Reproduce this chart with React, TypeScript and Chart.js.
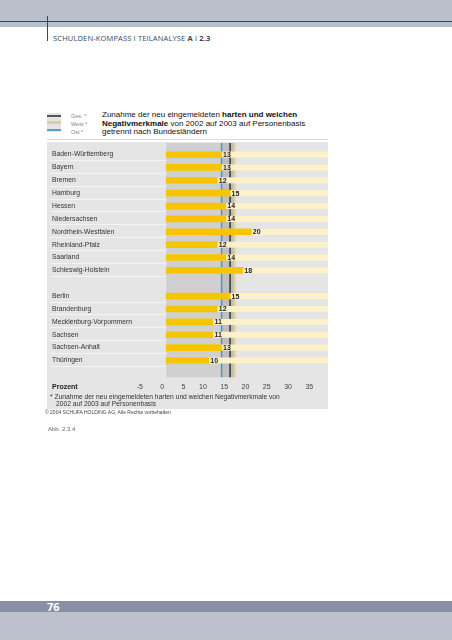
import React, { useEffect, useRef } from "react";
import { Chart, registerables } from "chart.js";

Chart.register(...registerables);

const categories = [
  "Baden-Württemberg",
  "Bayern",
  "Bremen",
  "Hamburg",
  "Hessen",
  "Niedersachsen",
  "Nordrhein-Westfalen",
  "Rheinland-Pfalz",
  "Saarland",
  "Schleswig-Holstein",
  "",
  "Berlin",
  "Brandenburg",
  "Mecklenburg-Vorpommern",
  "Sachsen",
  "Sachsen-Anhalt",
  "Thüringen",
];
const values: (number | null)[] = [13, 13, 12, 15, 14, 14, 20, 12, 14, 18, null, 15, 12, 11, 11, 13, 10];
const refNames = ["Ges. *", "West *", "Ost *"];
const refValues = [15.0, 16.1, 13.0];
const refColors = ["#333333", "#e6d38e", "#4f93c4"];
const xTicks = [-5, 0, 5, 10, 15, 20, 25, 30, 35];

const FONT = "'Liberation Sans', Arial, sans-serif";

const points = values
  .map((v, i) => ({ x: v, y: i }))
  .filter((p) => p.x !== null) as { x: number; y: number }[];

const decorPlugin = {
  id: "decor",
  beforeDatasetsDraw(chart: any) {
    const { ctx, chartArea, scales } = chart;
    const xs = scales.x;
    const ys = scales.y;
    const x0 = xs.getPixelForValue(0);
    const xOst = xs.getPixelForValue(refValues[2]);
    const xWest = xs.getPixelForValue(refValues[1]);
    ctx.save();
    // bands
    ctx.fillStyle = "#d0d0d0";
    ctx.fillRect(x0, chartArea.top, xOst - x0, chartArea.bottom - chartArea.top);
    ctx.fillStyle = "#bfbfbf";
    ctx.fillRect(xOst, chartArea.top, xWest - xOst, chartArea.bottom - chartArea.top);
    // reference lines
    const widths = [1.5, 2, 1.5];
    refValues.forEach((v, k) => {
      const px = xs.getPixelForValue(v);
      ctx.strokeStyle = refColors[k];
      ctx.lineWidth = widths[k];
      ctx.beginPath();
      ctx.moveTo(px, chartArea.top);
      ctx.lineTo(px, chartArea.bottom);
      ctx.stroke();
    });
    // separators and category labels
    const rowH = Math.abs(ys.getPixelForValue(1) - ys.getPixelForValue(0));
    ctx.font = `6.8px ${FONT}`;
    ctx.textBaseline = "middle";
    ctx.textAlign = "left";
    categories.forEach((c, i) => {
      if (!c) return;
      const py = ys.getPixelForValue(i);
      ctx.strokeStyle = "#f4f4f4";
      ctx.lineWidth = 1;
      ctx.beginPath();
      const sy = Math.round(py + rowH / 2) - 0.5;
      ctx.moveTo(chartArea.left + 3, sy);
      ctx.lineTo(x0, sy);
      ctx.stroke();
      ctx.fillStyle = "#333";
      ctx.fillText(c, chartArea.left + 5, py);
    });
    // tracks
    const meta = chart.getDatasetMeta(0);
    ctx.fillStyle = "#fdf1c9";
    meta.data.forEach((bar: any) => {
      ctx.fillRect(bar.base, bar.y - bar.height / 2, chartArea.right - bar.base, bar.height);
    });
    ctx.restore();
  },
  afterDatasetsDraw(chart: any) {
    const { ctx } = chart;
    const meta = chart.getDatasetMeta(0);
    ctx.save();
    ctx.font = `bold 7px ${FONT}`;
    ctx.fillStyle = "#222";
    ctx.textBaseline = "middle";
    ctx.textAlign = "left";
    meta.data.forEach((bar: any, j: number) => {
      ctx.fillText(String(points[j].x), bar.x + 1.5, bar.y + 0.5);
    });
    ctx.restore();
  },
};

function ChartBox() {
  const ref = useRef<HTMLCanvasElement | null>(null);
  useEffect(() => {
    if (!ref.current) return;
    const chart = new Chart(ref.current, {
      type: "bar",
      data: {
        datasets: [
          {
            data: points as any,
            backgroundColor: "#f6c400",
            borderWidth: 0,
            barThickness: 6,
          },
        ],
      },
      options: {
        indexAxis: "y",
        animation: false,
        responsive: false,
        maintainAspectRatio: false,
        layout: { padding: 0 },
        plugins: { legend: { display: false }, tooltip: { enabled: false } },
        scales: {
          x: {
            type: "linear",
            min: -28,
            max: 38,
            offset: false,
            grid: { display: false, drawTicks: false },
            border: { display: false },
            afterBuildTicks: (axis: any) => {
              axis.ticks = xTicks.map((v) => ({ value: v }));
            },
            ticks: {
              align: "end",
              labelOffset: -2,
              padding: 5.2,
              color: "#444",
              font: { family: FONT, size: 7 },
            },
          },
          y: {
            type: "linear",
            reverse: true,
            offset: false,
            min: -0.9,
            max: 17.3,
            display: false,
          },
        },
      } as any,
      plugins: [decorPlugin],
    });
    return () => chart.destroy();
  }, []);
  return (
    <canvas
      ref={ref}
      width={281}
      height={253}
      style={{ position: "absolute", left: 47, top: 143, width: 281, height: 253 }}
    />
  );
}

const abs = (s: React.CSSProperties): React.CSSProperties => ({ position: "absolute", ...s });

export default function App() {
  return (
    <div
      style={{
        position: "fixed",
        left: 0,
        top: 0,
        width: 452,
        height: 640,
        background: "#fff",
        overflow: "hidden",
        fontFamily: FONT,
      }}
    >
      {/* header band */}
      <div style={abs({ left: 0, top: 0, width: 452, height: 27, background: "#bac0cb" })} />
      <div style={abs({ left: 0, top: 21, width: 452, height: 1, background: "#2d4a5e" })} />
      <div style={abs({ left: 47, top: 16, width: 1, height: 25, background: "#2d4a5e" })} />
      <div
        style={abs({
          left: 53,
          top: 33.5,
          fontFamily: "'Open Sans', sans-serif",
          fontSize: 7.5,
          lineHeight: "8.5px",
          letterSpacing: 0.15,
          color: "#34495c",
          whiteSpace: "nowrap",
        })}
      >
        SCHULDEN-KOMPASS I TEILANALYSE <b>A</b> I <b>2.3</b>
      </div>

      {/* legend swatch */}
      <div style={abs({ left: 47, top: 113, width: 14, height: 19, background: "#e4e4e4" })} />
      <div style={abs({ left: 47, top: 114.5, width: 14, height: 2, background: "#555" })} />
      <div style={abs({ left: 47, top: 120.5, width: 14, height: 3, background: "#d8cf9f" })} />
      <div style={abs({ left: 47, top: 129, width: 14, height: 1.5, background: "#5aa0cf" })} />
      {refNames.map((n, i) => (
        <div
          key={n}
          style={abs({
            left: 71,
            top: 112.7 + i * 8,
            fontSize: 5.5,
            lineHeight: "6px",
            color: "#888",
            whiteSpace: "nowrap",
          })}
        >
          {n}
        </div>
      ))}

      {/* title */}
      <div
        style={abs({
          left: 102,
          top: 111,
          fontSize: 8,
          lineHeight: "8.5px",
          color: "#111",
          whiteSpace: "nowrap",
        })}
      >
        Zunahme der neu eingemeldeten <b>harten und weichen</b>
        <br />
        <b>Negativmerkmale</b> von 2002 auf 2003 auf Personenbasis
        <br />
        getrennt nach Bundesländern
      </div>

      <div style={abs({ left: 47, top: 139, width: 281, height: 1, background: "#dcdcdc" })} />

      {/* gray chart box */}
      <div style={abs({ left: 47, top: 142, width: 281, height: 267, background: "#e5e5e5" })} />
      <ChartBox />

      <div
        style={abs({
          left: 52,
          top: 382.7,
          fontSize: 7,
          lineHeight: "8px",
          fontWeight: "bold",
          color: "#222",
        })}
      >
        Prozent
      </div>
      <div
        style={abs({
          left: 50,
          top: 392.5,
          fontSize: 6.7,
          lineHeight: "7.5px",
          color: "#333",
          whiteSpace: "nowrap",
        })}
      >
        * Zunahme der neu eingemeldeten harten und weichen Negativmerkmale von
        <br />
        <span style={{ paddingLeft: 6 }}>2002 auf 2003 auf Personenbasis</span>
      </div>
      <div
        style={abs({
          left: 45,
          top: 410,
          fontSize: 5,
          lineHeight: "5px",
          color: "#444",
          whiteSpace: "nowrap",
        })}
      >
        © 2004 SCHUFA HOLDING AG, Alle Rechte vorbehalten
      </div>

      <div
        style={abs({
          left: 48,
          top: 426,
          fontSize: 6,
          lineHeight: "6px",
          color: "#666",
          whiteSpace: "nowrap",
        })}
      >
        Abb. 2.3.4
      </div>

      {/* footer */}
      <div style={abs({ left: 0, top: 601, width: 452, height: 11, background: "#8891a3" })} />
      <div style={abs({ left: 0, top: 612, width: 452, height: 28, background: "#bcc1cc" })} />
      <div
        style={abs({
          left: 47,
          top: 601,
          fontFamily: "'Open Sans', sans-serif",
          fontSize: 11,
          lineHeight: "12px",
          fontWeight: "bold",
          color: "#fff",
        })}
      >
        76
      </div>
    </div>
  );
}
